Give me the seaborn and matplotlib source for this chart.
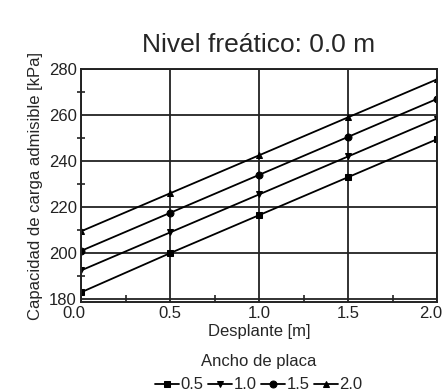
import matplotlib
matplotlib.use("Agg")
import matplotlib.pyplot as plt
import matplotlib.transforms as mtransforms
import seaborn as sns
import pandas as pd
from matplotlib.ticker import MultipleLocator

desplante = [0.0, 0.5, 1.0, 1.5, 2.0]
ancho_labels = ["0.5", "1.0", "1.5", "2.0"]
q_05 = [183.0, 200.0, 216.5, 233.0, 249.5]
q_10 = [192.5, 209.0, 225.5, 242.0, 258.5]
q_15 = [201.0, 217.5, 234.0, 250.5, 267.0]
q_20 = [209.5, 226.0, 242.5, 259.0, 275.5]
series = [q_05, q_10, q_15, q_20]

rows = []
for lab, vals in zip(ancho_labels, series):
    for x, v in zip(desplante, vals):
        rows.append({"Desplante": x, "q": v, "Ancho": lab})
df = pd.DataFrame(rows)

sns.set_style("ticks")
plt.rcParams["font.family"] = ["Liberation Sans", "DejaVu Sans"]

fig = plt.figure(figsize=(4.43, 3.92), dpi=100)
ax = fig.add_axes([81 / 443, 1 - 302 / 392, (437 - 81) / 443, (302 - 69) / 392])

markers = {"0.5": "s", "1.0": "v", "1.5": "o", "2.0": "^"}
palette = {k: "black" for k in ancho_labels}
sns.lineplot(data=df, x="Desplante", y="q", hue="Ancho", style="Ancho",
             markers=markers, dashes=False, palette=palette, ax=ax,
             linewidth=1.3, markersize=5, markeredgecolor="black", legend=True)

ax.set_xlim(0, 2.0)
ax.set_ylim(178.8, 280)
ax.set_xticks([0.0, 0.5, 1.0, 1.5, 2.0])
ax.set_xticklabels(["0.0", "0.5", "1.0", "1.5", "2.0"])
ax.set_yticks([180, 200, 220, 240, 260, 280])
ax.xaxis.set_minor_locator(MultipleLocator(0.25))
ax.yaxis.set_minor_locator(MultipleLocator(10))
ax.grid(True, which="major", color="#222222", linewidth=1.3)
ax.set_axisbelow(True)
ax.tick_params(axis="both", which="major", length=0, labelsize=12, pad=3, colors="#222222")
ax.tick_params(axis="x", which="minor", direction="in", length=5, width=1.2, color="#222222")
ax.tick_params(axis="y", which="minor", direction="inout", length=6, width=1.2, color="#222222")
for sp in ax.spines.values():
    sp.set_color("#222222")
    sp.set_linewidth(1.4)

# edge tick labels sit slightly left of their ticks in the reference
xlabels = ax.get_xticklabels()
for idx, dx in [(0, -7), (len(xlabels) - 1, -6)]:
    lbl = xlabels[idx]
    lbl.set_transform(lbl.get_transform() + mtransforms.ScaledTranslation(dx / 100, 0, fig.dpi_scale_trans))

ax.set_xlabel("Desplante [m]", fontsize=12, labelpad=2)
ax.set_ylabel("Capacidad de carga admisible [kPa]", fontsize=12, labelpad=4)
ax.set_title("Nivel freático: 0.0 m", fontsize=19, pad=12)

handles, labels = ax.get_legend_handles_labels()
ax.legend(handles, labels, title="Ancho de placa", loc="upper center",
          bbox_to_anchor=(0.5, -0.195), ncol=4, frameon=False, fontsize=12,
          title_fontsize=12, handlelength=1.4, handletextpad=0.1,
          columnspacing=0.3, borderaxespad=0)

fig.savefig("out.png", dpi=100)
